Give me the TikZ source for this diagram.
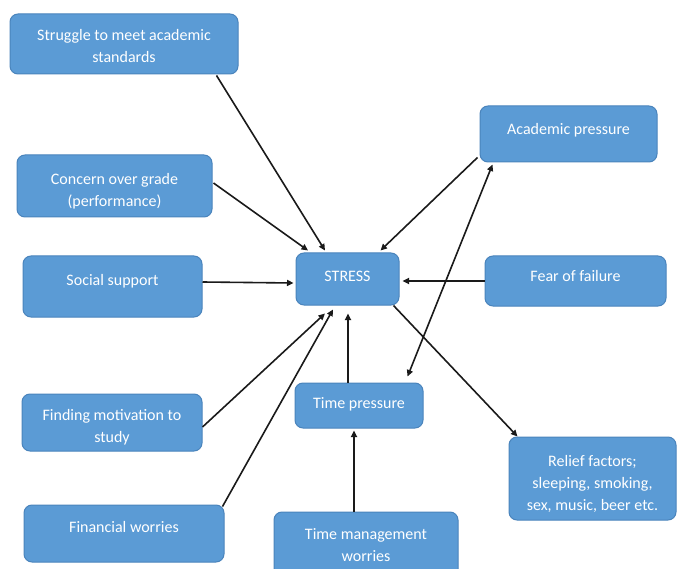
\documentclass[tikz,border=0pt]{standalone}
\usepackage{fontspec}
\setmainfont{Carlito}
\usetikzlibrary{arrows.meta,calc}
\definecolor{boxfill}{HTML}{5B9BD5}
\definecolor{boxline}{HTML}{4A84BC}
\definecolor{arrcol}{HTML}{1A1A1A}
\begin{document}
\begin{tikzpicture}[x=1pt,y=-1pt,
  box/.style={draw=boxline,line width=1pt,fill=boxfill,rounded corners=8pt,inner sep=0pt},
  txt/.style={text=white,align=center,inner sep=0pt,font=\fontsize{16}{22}\selectfont},
  arr/.style={draw=arrcol,line width=1.6pt,-{Triangle[length=6.5pt,width=6pt]}},
  darr/.style={draw=arrcol,line width=1.6pt,{Triangle[length=6.5pt,width=6pt]}-{Triangle[length=6.5pt,width=6pt]}}]
\useasboundingbox (0,0) rectangle (677,569);
\fill[white] (0,0) rectangle (677,569);
% boxes
\node[box,minimum width=228pt,minimum height=60pt] (s1) at (124,44) {};
\node[box,minimum width=195pt,minimum height=62pt] (s2) at (114.5,186) {};
\node[box,minimum width=179pt,minimum height=61pt] (s3) at (112.5,286.5) {};
\node[box,minimum width=103pt,minimum height=52pt] (stress) at (347.5,279) {};
\node[box,minimum width=177pt,minimum height=56pt] (acad) at (568.5,134) {};
\node[box,minimum width=181pt,minimum height=50pt] (fear) at (575.5,281) {};
\node[box,minimum width=180pt,minimum height=57pt] (motiv) at (112,422.5) {};
\node[box,minimum width=200pt,minimum height=57pt] (fin) at (124,533.5) {};
\node[box,minimum width=128pt,minimum height=45pt] (tp) at (359,405.5) {};
\node[box,minimum width=184pt,minimum height=68pt] (tm) at (366,546) {};
\node[box,minimum width=167pt,minimum height=83pt] (relief) at (592.5,478.5) {};
% texts
\node[txt] (t-s1) at ($(s1)+(0,2)$) {Struggle to meet academic\\standards};
\node[txt] (t-s2) at ($(s2)+(0,5)$) {Concern over grade\\(performance)};
\node[txt] (t-s3) at ($(s3)+(0,-5)$) {Social support};
\node[txt] (t-stress) at ($(stress)+(0,-2.5)$) {STRESS};
\node[txt] (t-acad) at ($(acad)+(0,-4)$) {Academic pressure};
\node[txt] (t-fear) at ($(fear)+(0,-5)$) {Fear of failure};
\node[txt] (t-motiv) at ($(motiv)+(0,5)$) {Finding motivation to\\study};
\node[txt] (t-fin) at ($(fin)+(0,-6)$) {Financial worries};
\node[txt] (t-tp) at ($(tp)+(0,-1)$) {Time pressure};
\node[txt] (t-tm) at ($(tm)+(0,-1)$) {Time management\\worries};
\node[txt] (t-relief) at ($(relief)+(0,5.5)$) {Relief factors;\\sleeping, smoking,\\sex, music, beer etc.};
% connectors
\draw[arr] ($(s1.south east)+(-22,1)$) -- ($(stress.north)+(-22.5,-2)$);
\draw[arr] ($(s2.east)+(1,-3)$) -- ($(stress.north)+(-39.5,-2)$);
\draw[arr] ($(s3.east)+(0,-4.5)$) -- ($(stress.west)+(-2,4)$);
\draw[arr] ($(motiv.east)+(0,4.5)$) -- ($(stress.south)+(-22.5,8)$);
\draw[arr] ($(fin.north east)+(-2,2)$) -- ($(stress.south)+(-14.5,4)$);
\draw[arr] ($(tp.north)+(-11,0)$) -- ($(stress.south)+(0.5,8)$);
\draw[arr] ($(tm.north)+(-12,0)$) -- ($(tp.south)+(-5,2)$);
\draw[arr] ($(stress.south east)+(-6,0)$) -- ($(relief.north west)+(9,0)$);
\draw[arr] ($(acad.south west)+(-2,-5)$) -- ($(stress.north east)+(-19,-2)$);
\draw[arr] (fear.west) -- ($(stress.east)+(3,2)$);
\draw[darr] ($(acad.south west)+(13,2)$) -- ($(tp.north east)+(-16,-6)$);
\end{tikzpicture}
\end{document}
